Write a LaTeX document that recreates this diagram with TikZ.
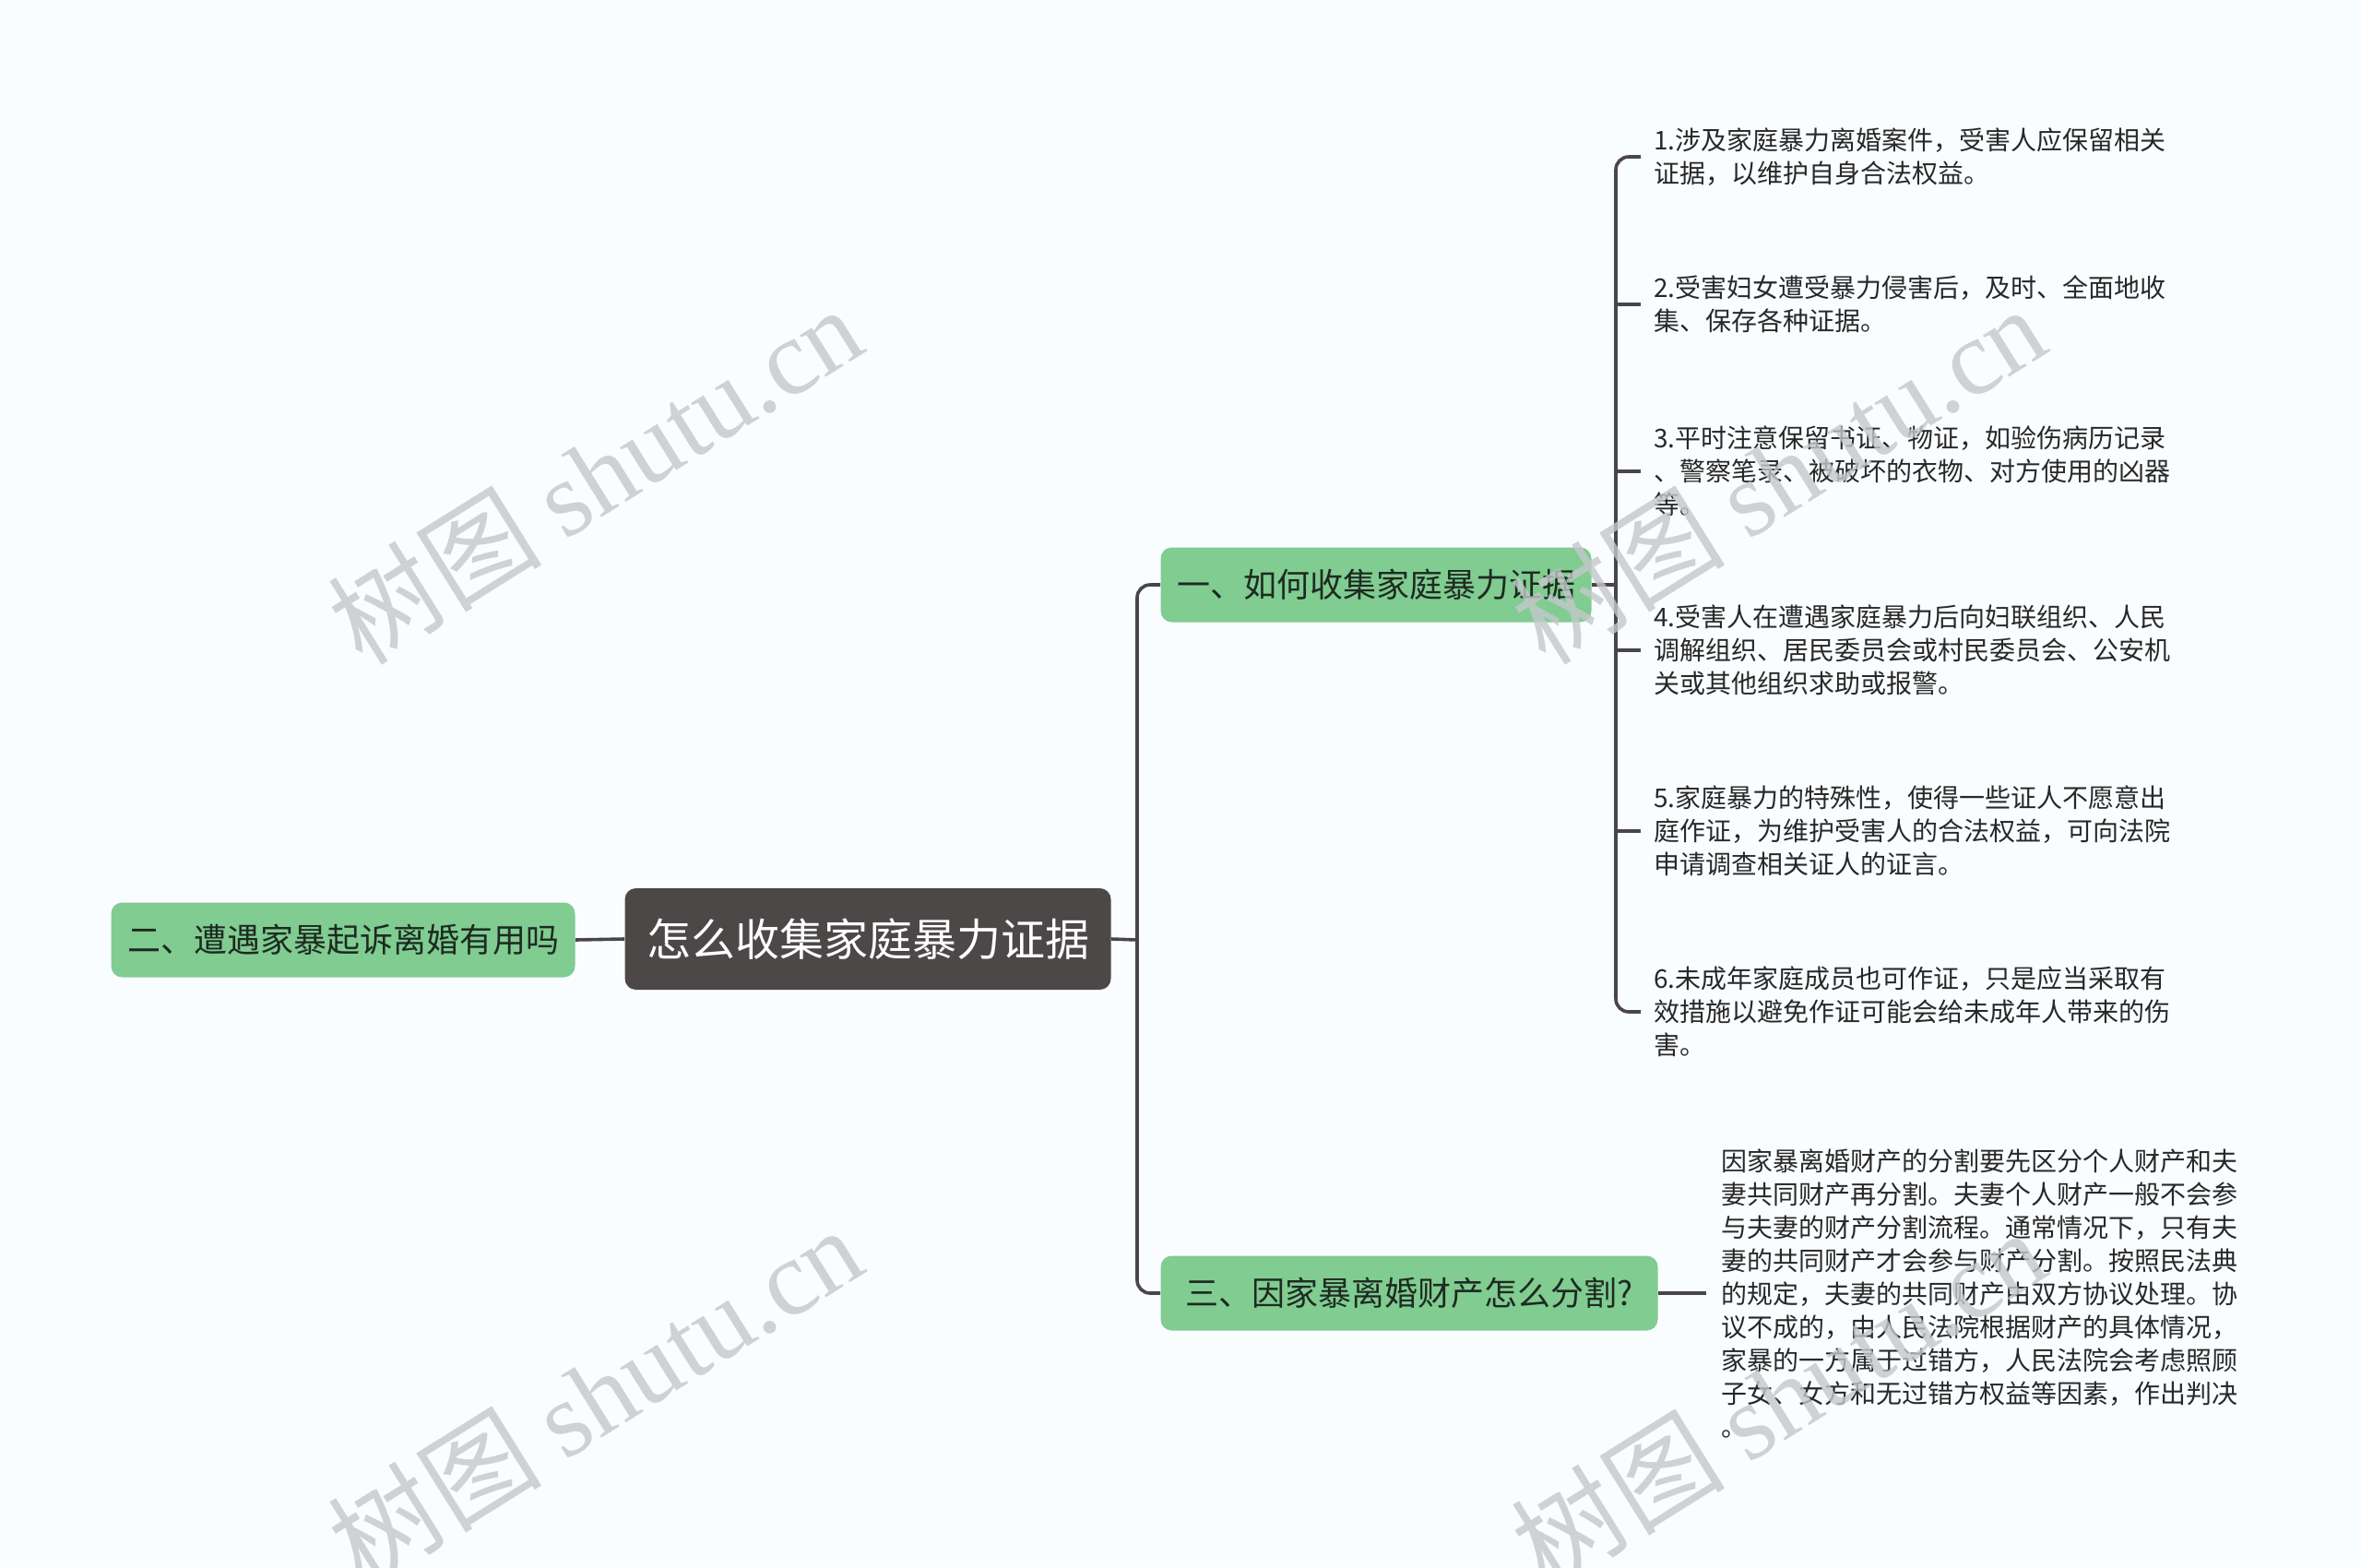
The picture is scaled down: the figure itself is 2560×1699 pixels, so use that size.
\documentclass[tikz,border=0pt]{standalone}
\usepackage{fontspec}
\setmainfont{Noto Sans CJK SC}
\newfontfamily\wmserif{Liberation Serif}
\definecolor{bgc}{RGB}{250,253,255}
\definecolor{greenfill}{RGB}{128,204,145}
\definecolor{rootfill}{RGB}{77,72,72}
\definecolor{linec}{RGB}{74,69,70}
\definecolor{greentext}{RGB}{30,42,34}
\definecolor{leaftext}{RGB}{40,40,40}
\definecolor{wmc}{RGB}{196,200,203}
\begin{document}
\begin{tikzpicture}[x=0.5pt,y=-0.5pt,
  conn/.style={draw=linec,line width=1.8pt},
  rootbox/.style={fill=rootfill,rounded corners=6pt,text=white,inner sep=0pt,
    minimum width=263.5pt,minimum height=55pt,font=\fontsize{24pt}{28pt}\selectfont},
  greenbox/.style={fill=greenfill,rounded corners=6pt,text=greentext,inner sep=0pt,
    minimum height=40.5pt,font=\fontsize{18pt}{22pt}\selectfont},
  leaf/.style={anchor=west,align=left,inner xsep=7pt,inner ysep=0pt,text=leaftext,
    font=\fontsize{14pt}{18pt}\selectfont},
  wm/.style={text=wmc,opacity=0.8,rotate=32,inner sep=0pt}]
\fill[bgc] (0,0) rectangle (2560,1699);
\useasboundingbox (0,0) rectangle (2560,1699);

% main nodes
\node[rootbox] (root) at (941,1018) {怎么收集家庭暴力证据};
\node[greenbox,minimum width=251.5pt] (n2) at (372,1019) {二、遭遇家暴起诉离婚有用吗};
\node[greenbox,minimum width=233.5pt] (n1) at (1492,634) {一、如何收集家庭暴力证据};
\node[greenbox,minimum width=269.5pt] (n3) at (1528,1402) {三、因家暴离婚财产怎么分割?};

% leaves of n1
\node[leaf] (l1) at (1779,170) {1.涉及家庭暴力离婚案件，受害人应保留相关\\证据，以维护自身合法权益。};
\node[leaf] (l2) at (1779,330) {2.受害妇女遭受暴力侵害后，及时、全面地收\\集、保存各种证据。};
\node[leaf] (l3) at (1779,511) {3.平时注意保留书证、物证，如验伤病历记录\\、警察笔录、被破坏的衣物、对方使用的凶器\\等。};
\node[leaf] (l4) at (1779,705) {4.受害人在遭遇家庭暴力后向妇联组织、人民\\调解组织、居民委员会或村民委员会、公安机\\关或其他组织求助或报警。};
\node[leaf] (l5) at (1779,901) {5.家庭暴力的特殊性，使得一些证人不愿意出\\庭作证，为维护受害人的合法权益，可向法院\\申请调查相关证人的证言。};
\node[leaf] (l6) at (1779,1097) {6.未成年家庭成员也可作证，只是应当采取有\\效措施以避免作证可能会给未成年人带来的伤\\害。};

% leaf of n3
\node[leaf,inner xsep=8pt] (t3) at (1850,1402) {因家暴离婚财产的分割要先区分个人财产和夫\\妻共同财产再分割。夫妻个人财产一般不会参\\与夫妻的财产分割流程。通常情况下，只有夫\\妻的共同财产才会参与财产分割。按照民法典\\的规定，夫妻的共同财产由双方协议处理。协\\议不成的，由人民法院根据财产的具体情况，\\家暴的一方属于过错方，人民法院会考虑照顾\\子女、女方和无过错方权益等因素，作出判决\\。};

% connectors
\coordinate (tx) at (1233,1019);
\coordinate (bx) at (1752,634);
\draw[conn] (n2.east) -- (root.west);
\draw[conn] (root.east) -- (tx);
\draw[conn,rounded corners=7pt] (n1.west) -| (tx) |- (n3.west);
\draw[conn] (n1.east) -- (bx);
\draw[conn,rounded corners=7pt] (l1.west) -| (bx) |- (l6.west);
\draw[conn] (l2.west) -- (l2.west -| bx);
\draw[conn] (l3.west) -- (l3.west -| bx);
\draw[conn] (l4.west) -- (l4.west -| bx);
\draw[conn] (l5.west) -- (l5.west -| bx);
\draw[conn] (n3.east) -- (t3.west);

% watermarks
\node[wm] (w1) at (645,514) {\fontsize{58pt}{60pt}\selectfont 树图 {\wmserif shutu.cn}};
\node[wm] (w2) at (645,1512) {\fontsize{58pt}{60pt}\selectfont 树图 {\wmserif shutu.cn}};
\node[wm] (w3) at (1928,514) {\fontsize{58pt}{60pt}\selectfont 树图 {\wmserif shutu.cn}};
\node[wm] (w4) at (1928,1515) {\fontsize{58pt}{60pt}\selectfont 树图 {\wmserif shutu.cn}};
\end{tikzpicture}
\end{document}
